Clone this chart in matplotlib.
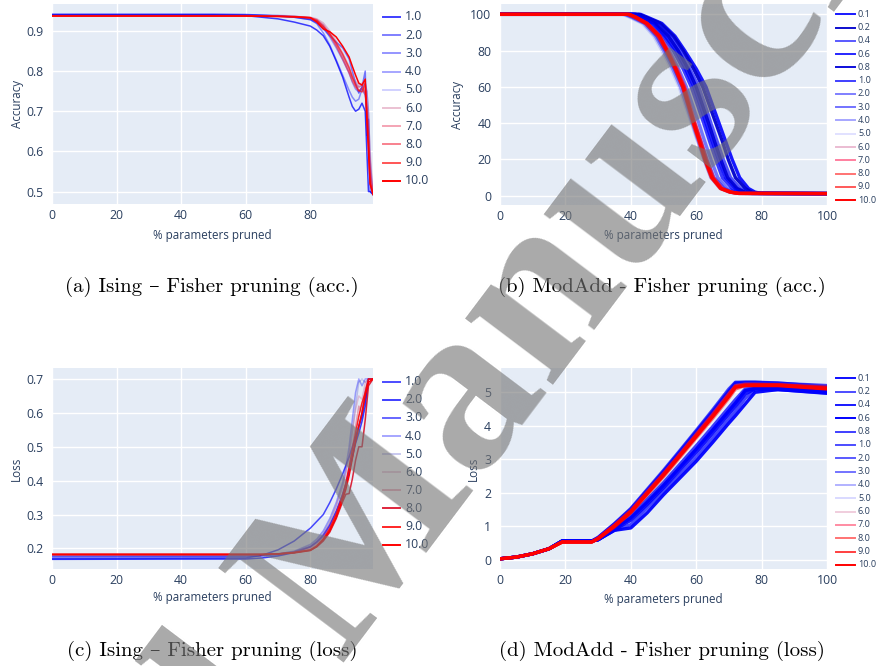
import matplotlib
matplotlib.use('Agg')
import matplotlib.pyplot as plt
from matplotlib.lines import Line2D
import math

W, H = 876, 666
BG = '#E5ECF6'
TXT = '#2a3f5f'
plt.rcParams['font.family'] = ['Open Sans', 'DejaVu Sans']

# ---------------- data ----------------
# (a) Ising accuracy
labels_a = ['1.0', '2.0', '3.0', '4.0', '5.0', '6.0', '7.0', '8.0', '9.0', '10.0']
xa = [0, 50, 60, 70, 75, 80, 82, 84, 86, 88, 90, 92, 93, 94, 95, 96, 97, 97.5, 98, 98.5, 99.4]
ya = [
    [0.940, 0.940, 0.938, 0.930, 0.922, 0.912, 0.902, 0.888, 0.862, 0.825, 0.785, 0.735, 0.712, 0.700, 0.705, 0.720, 0.700, 0.600, 0.500, 0.500, 0.493],
    [0.942, 0.942, 0.941, 0.937, 0.934, 0.928, 0.920, 0.905, 0.888, 0.872, 0.858, 0.830, 0.800, 0.770, 0.745, 0.760, 0.800, 0.640, 0.680, 0.500, 0.493],
    [0.940, 0.940, 0.940, 0.937, 0.934, 0.928, 0.918, 0.895, 0.865, 0.828, 0.790, 0.752, 0.735, 0.725, 0.730, 0.755, 0.740, 0.700, 0.620, 0.520, 0.493],
    [0.940, 0.940, 0.940, 0.938, 0.935, 0.930, 0.924, 0.910, 0.885, 0.858, 0.828, 0.795, 0.772, 0.755, 0.748, 0.760, 0.770, 0.750, 0.700, 0.580, 0.493],
    [0.940, 0.940, 0.940, 0.939, 0.937, 0.932, 0.926, 0.915, 0.895, 0.868, 0.838, 0.805, 0.785, 0.770, 0.760, 0.765, 0.750, 0.700, 0.650, 0.550, 0.493],
    [0.938, 0.938, 0.938, 0.937, 0.936, 0.934, 0.930, 0.920, 0.900, 0.875, 0.845, 0.812, 0.790, 0.775, 0.765, 0.770, 0.750, 0.750, 0.690, 0.600, 0.493],
    [0.938, 0.938, 0.938, 0.937, 0.936, 0.933, 0.928, 0.915, 0.892, 0.865, 0.835, 0.800, 0.782, 0.768, 0.760, 0.765, 0.740, 0.720, 0.650, 0.560, 0.493],
    [0.938, 0.938, 0.938, 0.937, 0.936, 0.933, 0.927, 0.912, 0.890, 0.862, 0.830, 0.795, 0.775, 0.760, 0.750, 0.758, 0.745, 0.700, 0.630, 0.540, 0.493],
    [0.937, 0.937, 0.937, 0.936, 0.935, 0.932, 0.925, 0.910, 0.893, 0.870, 0.842, 0.808, 0.785, 0.765, 0.752, 0.748, 0.770, 0.690, 0.620, 0.520, 0.493],
    [0.937, 0.937, 0.937, 0.936, 0.935, 0.933, 0.922, 0.905, 0.898, 0.885, 0.862, 0.835, 0.812, 0.790, 0.770, 0.765, 0.780, 0.680, 0.600, 0.520, 0.493],
]
colors_a = [(0, 0, 1, 0.75), (0, 0, 1, 0.5), (0, 0, 1, 0.42), (0, 0, 1, 0.35), (0, 0, 1, 0.18),
            (0.78, 0.3, 0.5, 0.35), (0.9, 0.15, 0.3, 0.42), (0.95, 0.1, 0.2, 0.55), (1, 0.05, 0.05, 0.7), (1, 0, 0, 1)]

# (c) Ising loss
labels_c = labels_a
xc = [0, 60, 65, 70, 75, 80, 82, 84, 86, 88, 90, 91, 92, 93, 94, 95, 96, 97, 98, 99.4]
yc = [
    [0.170, 0.172, 0.180, 0.196, 0.222, 0.260, 0.280, 0.300, 0.335, 0.375, 0.420, 0.445, 0.470, 0.500, 0.530, 0.560, 0.590, 0.640, 0.700, 0.700],
    [0.168, 0.169, 0.172, 0.178, 0.188, 0.205, 0.220, 0.240, 0.270, 0.310, 0.360, 0.390, 0.430, 0.470, 0.510, 0.540, 0.575, 0.620, 0.700, 0.700],
    [0.175, 0.176, 0.178, 0.182, 0.190, 0.205, 0.218, 0.236, 0.265, 0.305, 0.355, 0.388, 0.425, 0.470, 0.520, 0.560, 0.600, 0.660, 0.700, 0.700],
    [0.178, 0.179, 0.180, 0.184, 0.192, 0.212, 0.228, 0.252, 0.288, 0.335, 0.395, 0.440, 0.500, 0.580, 0.660, 0.700, 0.680, 0.700, 0.700, 0.700],
    [0.180, 0.180, 0.181, 0.184, 0.191, 0.208, 0.224, 0.246, 0.280, 0.325, 0.385, 0.425, 0.475, 0.545, 0.620, 0.690, 0.700, 0.690, 0.700, 0.700],
    [0.182, 0.182, 0.183, 0.185, 0.190, 0.205, 0.220, 0.240, 0.275, 0.325, 0.385, 0.425, 0.475, 0.545, 0.610, 0.650, 0.640, 0.690, 0.700, 0.700],
    [0.182, 0.182, 0.182, 0.184, 0.189, 0.200, 0.213, 0.232, 0.262, 0.305, 0.360, 0.395, 0.440, 0.500, 0.560, 0.620, 0.600, 0.670, 0.700, 0.700],
    [0.182, 0.182, 0.182, 0.184, 0.188, 0.195, 0.205, 0.222, 0.248, 0.288, 0.338, 0.360, 0.362, 0.405, 0.460, 0.500, 0.500, 0.580, 0.680, 0.700],
    [0.182, 0.182, 0.182, 0.184, 0.188, 0.196, 0.208, 0.228, 0.258, 0.300, 0.355, 0.392, 0.440, 0.490, 0.540, 0.590, 0.630, 0.660, 0.700, 0.700],
    [0.183, 0.183, 0.183, 0.184, 0.187, 0.194, 0.206, 0.226, 0.252, 0.292, 0.345, 0.375, 0.415, 0.465, 0.515, 0.560, 0.600, 0.650, 0.690, 0.700],
]
colors_c = [(0, 0, 1, 0.7), (0, 0, 1, 0.75), (0, 0, 1, 0.6), (0, 0, 1, 0.35), (0.3, 0.3, 0.8, 0.3),
            (0.8, 0.4, 0.6, 0.35), (0.88, 0.25, 0.4, 0.45), (0.85, 0, 0.1, 0.85), (1, 0, 0, 0.85), (1, 0, 0, 1)]

# (b) ModAdd accuracy: x position of each run at shared accuracy levels
labels_b = ['0.1', '0.2', '0.4', '0.6', '0.8', '1.0', '2.0', '3.0', '4.0', '5.0', '6.0', '7.0', '8.0', '9.0', '10.0']
yb_levels = [100, 100, 98.5, 95, 88, 80, 70, 60, 50, 40, 30, 20, 10, 4, 2, 1.3, 1.2]
xb = [
    [0, 43.0, 45.0, 49.5, 53.5, 56.5, 60.0, 63.0, 65.0, 67.0, 69.0, 71.0, 73.3, 76.0, 78.0, 80.0, 100],
    [0, 42.5, 44.5, 49.0, 53.0, 56.0, 59.2, 62.0, 64.0, 66.0, 68.0, 69.8, 72.0, 75.0, 77.0, 79.0, 100],
    [0, 41.5, 43.5, 48.0, 52.0, 55.0, 58.0, 60.8, 62.7, 64.5, 66.4, 68.3, 70.5, 73.5, 75.8, 78.0, 100],
    [0, 41.0, 43.0, 47.0, 50.5, 53.8, 56.7, 59.3, 61.2, 63.0, 64.9, 66.8, 69.0, 72.0, 74.3, 77.0, 100],
    [0, 41.5, 43.5, 47.5, 51.5, 54.5, 57.5, 60.0, 61.9, 63.8, 65.6, 67.5, 69.6, 72.5, 75.0, 77.0, 100],
    [0, 40.5, 42.5, 46.5, 50.0, 53.0, 56.0, 58.5, 60.4, 62.3, 64.1, 66.0, 68.0, 71.0, 73.5, 76.0, 100],
    [0, 39.5, 41.5, 45.5, 49.0, 51.8, 54.6, 57.0, 58.9, 60.8, 62.6, 64.5, 66.6, 69.5, 72.0, 75.0, 100],
    [0, 38.5, 40.5, 44.5, 48.0, 50.5, 53.3, 55.8, 57.6, 59.5, 61.4, 63.3, 65.4, 68.5, 71.0, 74.0, 100],
    [0, 38.0, 40.0, 44.0, 47.5, 50.0, 52.8, 55.2, 57.0, 58.8, 60.6, 62.5, 64.6, 67.6, 70.3, 73.0, 100],
    [0, 37.5, 39.5, 43.5, 47.0, 49.5, 52.3, 54.8, 56.6, 58.5, 60.4, 62.3, 64.4, 67.4, 70.0, 73.0, 100],
    [0, 39.0, 41.0, 44.5, 48.5, 51.0, 53.7, 56.0, 57.6, 59.2, 61.0, 62.8, 64.9, 67.7, 70.5, 73.0, 100],
    [0, 39.5, 41.5, 45.0, 49.0, 51.5, 54.2, 56.5, 58.1, 59.7, 61.5, 63.2, 65.3, 68.0, 70.8, 73.0, 100],
    [0, 39.0, 41.0, 44.5, 48.3, 50.8, 53.5, 55.8, 57.4, 59.0, 60.8, 62.5, 64.6, 67.3, 70.2, 73.0, 100],
    [0, 39.5, 41.5, 45.0, 48.6, 51.2, 53.9, 56.3, 57.9, 59.5, 61.3, 63.0, 65.1, 67.8, 70.6, 73.0, 100],
    [0, 39.5, 41.5, 45.0, 48.8, 51.0, 53.7, 56.0, 57.7, 59.2, 61.0, 62.7, 64.8, 67.5, 70.4, 73.0, 100],
]
colors_b = [(0, 0, 1, 0.9), (0, 0, 0.8, 0.95), (0, 0, 1, 0.65), (0, 0, 1, 0.85), (0, 0, 0.85, 0.95),
            (0, 0, 1, 0.75), (0, 0, 1, 0.5), (0, 0, 1, 0.55), (0, 0, 1, 0.35), (0, 0, 1, 0.12),
            (0.78, 0.25, 0.5, 0.35), (1, 0, 0.25, 0.5), (1, 0, 0, 0.55), (1, 0, 0, 0.65), (1, 0, 0, 1)]

# (d) ModAdd loss
labels_d = labels_b
xd = [0, 5, 10, 15, 19, 28, 30, 35, 40, 45, 50, 55, 60, 65, 70, 72, 75, 78, 85, 100]
yd = [
    [0.03, 0.08, 0.18, 0.33, 0.56, 0.56, 0.60, 0.88, 0.95, 1.40, 1.94, 2.44, 2.94, 3.50, 4.08, 4.30, 4.65, 5.00, 5.08, 4.97],
    [0.03, 0.08, 0.18, 0.33, 0.56, 0.56, 0.60, 0.88, 1.05, 1.55, 2.05, 2.55, 3.05, 3.62, 4.20, 4.43, 4.82, 5.08, 5.08, 4.98],
    [0.03, 0.08, 0.18, 0.33, 0.56, 0.56, 0.60, 0.90, 1.18, 1.65, 2.15, 2.68, 3.20, 3.77, 4.35, 4.58, 4.95, 5.10, 5.10, 5.00],
    [0.03, 0.08, 0.18, 0.33, 0.56, 0.56, 0.60, 0.93, 1.25, 1.72, 2.22, 2.76, 3.30, 3.87, 4.45, 4.68, 5.05, 5.12, 5.12, 5.02],
    [0.03, 0.08, 0.18, 0.33, 0.56, 0.56, 0.60, 0.92, 1.30, 1.80, 2.30, 2.85, 3.40, 3.97, 4.55, 4.78, 5.10, 5.12, 5.12, 5.05],
    [0.03, 0.08, 0.18, 0.33, 0.56, 0.56, 0.67, 1.08, 1.53, 2.10, 2.67, 3.26, 3.86, 4.47, 5.10, 5.30, 5.30, 5.30, 5.28, 5.16],
    [0.03, 0.08, 0.18, 0.33, 0.55, 0.55, 0.66, 1.06, 1.50, 2.06, 2.63, 3.22, 3.82, 4.42, 5.04, 5.28, 5.30, 5.30, 5.27, 5.20],
    [0.03, 0.08, 0.18, 0.33, 0.55, 0.55, 0.65, 1.05, 1.48, 2.04, 2.60, 3.18, 3.78, 4.38, 5.00, 5.25, 5.26, 5.26, 5.24, 5.15],
    [0.03, 0.08, 0.18, 0.33, 0.55, 0.55, 0.66, 1.07, 1.52, 2.08, 2.64, 3.23, 3.83, 4.43, 5.05, 5.28, 5.28, 5.28, 5.26, 5.18],
    [0.03, 0.08, 0.18, 0.33, 0.54, 0.54, 0.66, 1.06, 1.50, 2.06, 2.62, 3.20, 3.80, 4.40, 5.00, 5.25, 5.27, 5.27, 5.25, 5.20],
    [0.03, 0.08, 0.18, 0.33, 0.53, 0.53, 0.64, 1.03, 1.46, 2.02, 2.57, 3.15, 3.74, 4.33, 4.95, 5.20, 5.25, 5.25, 5.24, 5.18],
    [0.03, 0.08, 0.18, 0.33, 0.53, 0.53, 0.65, 1.04, 1.47, 2.03, 2.58, 3.16, 3.75, 4.35, 4.97, 5.20, 5.24, 5.24, 5.22, 5.13],
    [0.03, 0.08, 0.18, 0.33, 0.53, 0.53, 0.62, 0.98, 1.40, 1.94, 2.48, 3.06, 3.64, 4.22, 4.83, 5.10, 5.20, 5.22, 5.22, 5.15],
    [0.03, 0.08, 0.18, 0.33, 0.53, 0.53, 0.64, 1.02, 1.45, 2.00, 2.55, 3.13, 3.72, 4.30, 4.92, 5.17, 5.22, 5.22, 5.22, 5.12],
    [0.03, 0.08, 0.18, 0.33, 0.53, 0.53, 0.63, 1.00, 1.42, 1.97, 2.52, 3.10, 3.68, 4.27, 4.88, 5.15, 5.20, 5.20, 5.20, 5.10],
]
colors_d = [(0, 0, 1, 0.95), (0, 0, 1, 0.7), (0, 0, 1, 0.9), (0, 0, 1, 1.0), (0, 0, 1, 0.75),
            (0, 0, 1, 0.7), (0, 0, 1, 0.65), (0, 0, 1, 0.55), (0, 0, 1, 0.3), (0, 0, 1, 0.15),
            (0.8, 0.35, 0.55, 0.3), (1, 0, 0.2, 0.45), (1, 0, 0, 0.55), (1, 0, 0, 0.75), (1, 0, 0, 1)]

captions = ['(a) Ising – Fisher pruning (acc.)', '(b) ModAdd - Fisher pruning (acc.)',
            '(c) Ising – Fisher pruning (loss)', '(d) ModAdd - Fisher pruning (loss)']
watermark_words = ['Accepted', 'Manuscript']

# ---------------- drawing ----------------
fig = plt.figure(figsize=(W / 100, H / 100), dpi=100)


def fx(px):
    return px / W


def fy(py):
    return 1 - py / H


def make_ax(l, t, r, b):
    return fig.add_axes([fx(l), fy(b), (r - l) / W, (b - t) / H])


def style(ax, xlim, ylim, xticks, yticks, ylabels, ylabel, box, ylab_x, xlab_y):
    l, t, r, b = box
    ax.set_facecolor(BG)
    for s in ax.spines.values():
        s.set_visible(False)
    ax.set_xlim(*xlim)
    ax.set_ylim(*ylim)
    ax.set_xticks(xticks)
    ax.set_xticklabels([str(v) for v in xticks])
    ax.set_yticks(yticks)
    ax.set_yticklabels(ylabels)
    ax.tick_params(length=0, labelsize=8.8, labelcolor=TXT)
    ax.tick_params(axis='x', pad=3.5)
    ax.tick_params(axis='y', pad=6.3)
    ax.grid(color='white', lw=1.0)
    ax.set_axisbelow(True)
    ax.set_xlabel('% parameters pruned', fontsize=8.4, color=TXT)
    ax.xaxis.set_label_coords(0.5, -(xlab_y - b) / (b - t))
    ax.xaxis.label.set_va('center')
    ax.set_ylabel(ylabel, fontsize=8.4, color=TXT)
    ax.yaxis.set_label_coords((ylab_x - l) / (r - l), 0.5)
    ax.yaxis.label.set_va('center')


def legend(labels, colors, x0, x1, xt, y0, dy, fs, lw):
    for i, (lab, c) in enumerate(zip(labels, colors)):
        y = y0 + dy * i
        fig.add_artist(Line2D([fx(x0), fx(x1)], [fy(y), fy(y)], color=c, lw=lw,
                              transform=fig.transFigure))
        fig.text(fx(xt), fy(y), lab, fontsize=fs, color=TXT, ha='left', va='center')


# (a)
box_a = (52, 4, 373, 204)
ax_a = make_ax(*box_a)
for yv, c in zip(ya, colors_a):
    ax_a.plot(xa, yv, color=c, lw=1.1)
style(ax_a, (0, 99.4), (0.469, 0.967), [0, 20, 40, 60, 80], [0.5, 0.6, 0.7, 0.8, 0.9],
      ['0.5', '0.6', '0.7', '0.8', '0.9'], 'Accuracy', box_a, 17, 235)
legend(labels_a, colors_a, 383, 400, 405, 17, 18.2, 8.8, 1.4)

# (b)
box_b = (500, 4, 827, 205)
ax_b = make_ax(*box_b)
for xv, c in zip(xb, colors_b):
    ax_b.plot(xv, yb_levels, color=c, lw=2.4)
style(ax_b, (0, 100), (-5.1, 105.7), [0, 20, 40, 60, 80, 100], [0, 20, 40, 60, 80, 100],
      ['0', '20', '40', '60', '80', '100'], 'Accuracy', box_b, 458, 235)
legend(labels_b, colors_b, 836, 855, 858, 14.3, 13.27, 6.6, 1.4)

# (c)
box_c = (52, 368, 373, 569)
ax_c = make_ax(*box_c)
for yv, c in zip(yc, colors_c):
    ax_c.plot(xc, yv, color=c, lw=1.1)
style(ax_c, (0, 99.4), (0.1395, 0.7324), [0, 20, 40, 60, 80], [0.2, 0.3, 0.4, 0.5, 0.6, 0.7],
      ['0.2', '0.3', '0.4', '0.5', '0.6', '0.7'], 'Loss', box_c, 16, 598)
legend(labels_c, colors_c, 383, 400, 405, 381.7, 18.1, 8.8, 1.4)

# (d)
box_d = (500, 368, 827, 569)
ax_d = make_ax(*box_d)
for yv, c in zip(yd, colors_d):
    ax_d.plot(xd, yv, color=c, lw=2.4)
style(ax_d, (0, 100), (-0.275, 5.725), [0, 20, 40, 60, 80, 100], [0, 1, 2, 3, 4, 5],
      ['0', '1', '2', '3', '4', '5'], 'Loss', box_d, 473, 599)
legend(labels_d, colors_d, 836, 855, 858, 378.3, 13.33, 6.6, 1.4)

# captions
cap_pos = [(212, 287), (662, 287), (212, 651), (662, 651)]
for txt, (cx, cy) in zip(captions, cap_pos):
    fig.text(fx(cx), fy(cy), txt, fontsize=15, family=['cmr10', 'DejaVu Serif'],
             ha='center', va='center', color='black')

# watermark (two words along one rotated baseline)
ang = 53
wm_px = 240
bx, by = 340, 662
ux, uy = math.cos(math.radians(ang)), -math.sin(math.radians(ang))
gap = 0.25 * wm_px
wm_kw = dict(fontsize=wm_px * 0.72, family='Liberation Serif', weight='bold',
             rotation=ang, rotation_mode='anchor', va='baseline',
             color='#757575', alpha=0.62, zorder=100)
fig.text(fx(bx), fy(by), watermark_words[1], ha='left', **wm_kw)
fig.text(fx(bx - gap * ux), fy(by - gap * uy), watermark_words[0], ha='right', **wm_kw)

fig.savefig('out.png', dpi=100)
